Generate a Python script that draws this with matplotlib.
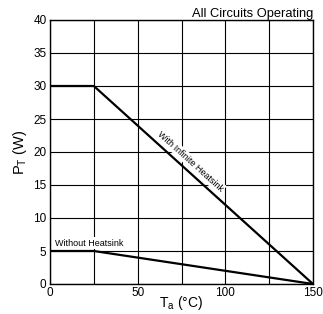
import matplotlib
matplotlib.use('Agg')
import matplotlib.pyplot as plt

plt.rcParams['font.family'] = ['Liberation Sans', 'DejaVu Sans']
plt.rcParams['mathtext.fontset'] = 'custom'
plt.rcParams['mathtext.rm'] = 'Liberation Sans'

# derating curves
ta_inf = [0, 25, 150]
pt_inf = [30, 30, 0]
ta_no = [0, 25, 150]
pt_no = [5, 5, 0]
xticks = [0, 50, 100, 150]
yticks = [0, 5, 10, 15, 20, 25, 30, 35, 40]

fig = plt.figure(figsize=(3.23, 3.14), dpi=100)
ax = fig.add_axes([50/323, 30/314, 263/323, 264/314])

ax.plot(ta_inf, pt_inf, color='black', lw=1.6, zorder=3)
ax.plot(ta_no, pt_no, color='black', lw=1.6, zorder=3)

ax.set_xlim(0, 150)
ax.set_ylim(0, 40)
ax.set_xticks(xticks)
ax.set_yticks(yticks)
ax.set_xticks([25, 75, 125], minor=True)
ax.tick_params(which='both', length=0, labelsize=8.5, pad=2.5)
ax.grid(which='both', color='black', lw=0.8)
ax.set_axisbelow(True)
for s in ax.spines.values():
    s.set_linewidth(1.0)

ax.text(80, 18.6, 'With Infinite Heatsink', rotation=-42, fontsize=6.5,
        ha='center', va='center', rotation_mode='anchor',
        bbox=dict(facecolor='white', edgecolor='none', pad=1), zorder=4)
ax.text(3, 6.2, 'Without Heatsink', fontsize=6.5, ha='left', va='center',
        bbox=dict(facecolor='white', edgecolor='none', pad=1), zorder=4)

ax.set_title('All Circuits Operating', fontsize=9.3, loc='right', pad=2)
ax.set_xlabel(r'$\mathregular{T_a}$ (°C)', fontsize=10, labelpad=-4)
ax.set_ylabel(r'$\mathregular{P_T}$ (W)', fontsize=10.5, labelpad=3)

fig.savefig('out.png', dpi=100)
